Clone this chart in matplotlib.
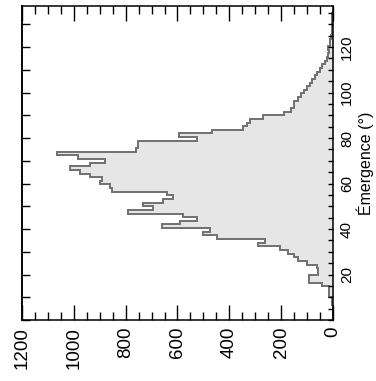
import numpy as np
import matplotlib
matplotlib.use('Agg')
import matplotlib.pyplot as plt
from matplotlib.ticker import MultipleLocator

plt.rcParams['font.family'] = ['Liberation Sans', 'DejaVu Sans']

# histogram of emergence angle (deg), bins of 1.6 deg starting at 0.4
bin_start = 0.4
bin_width = 1.6
counts = [0, 0, 0, 0, 5, 5, 14, 14, 14, 44,
          91, 91, 57, 57, 60, 101, 133, 152, 172, 204,
          288, 262, 448, 500, 474, 661, 591, 526, 578, 790,
          694, 733, 655, 616, 642, 854, 861, 899, 893, 938,
          976, 1015, 938, 880, 983, 1064, 760, 751, 751, 526,
          593, 468, 346, 333, 320, 270, 190, 160, 150, 150,
          135, 122, 112, 100, 90, 80, 70, 62, 50, 42,
          32, 22, 18, 15, 18, 12, 10, 6, 5, 4,
          5, 3, 3, 2, 0]
count_ticks = [0, 200, 400, 600, 800, 1000, 1200]
angle_ticks = [20, 40, 60, 80, 100, 120]

counts = np.array(counts)
edges = bin_start + bin_width * np.arange(len(counts) + 1)

fig = plt.figure(figsize=(3.76, 3.81), dpi=100)
ax = fig.add_axes([0.0585, 0.160, 0.827, 0.824])

# filled histogram lying on its side, then the outline
ax.stairs(counts, edges, orientation='horizontal', fill=True,
          color='#e6e6e6', linewidth=0)
ax.stairs(counts, edges, orientation='horizontal', fill=False,
          color='#707070', linewidth=1.4)

ax.set_xlim(1200, 0)
ax.set_ylim(0, 138)

for s in ax.spines.values():
    s.set_linewidth(1.1)

# count axis (bottom + top)
ax.set_xticks(count_ticks)
ax.xaxis.set_minor_locator(MultipleLocator(50))
ax.tick_params(axis='x', which='major', direction='in', length=11, width=1.0,
               top=True, bottom=True, labelsize=13.5, labelrotation=90, pad=5)
ax.tick_params(axis='x', which='minor', direction='in', length=5.5, width=1.0,
               top=True, bottom=True)

# angle axis on the right
ax.yaxis.tick_right()
ax.set_yticks(angle_ticks)
ax.yaxis.set_minor_locator(MultipleLocator(5))
ax.tick_params(axis='y', which='major', direction='in', length=3.5, width=1.0,
               left=False, right=True, labelsize=11, labelrotation=90, pad=5)
ax.tick_params(axis='y', which='minor', direction='in', length=3.5, width=1.0,
               left=False, right=True)
for lab in ax.get_yticklabels():
    lab.set_verticalalignment('center')

ax.yaxis.set_label_position('right')
ax.set_ylabel('Émergence (°)', fontsize=11.5, rotation=90)
ax.yaxis.set_label_coords(1.075, 0.5)

# left side ticks every 10 deg
sec = ax.secondary_yaxis('left')
sec.yaxis.set_major_locator(MultipleLocator(10))
sec.tick_params(axis='y', direction='in', length=5.5, width=1.0, labelleft=False)
sec.spines['left'].set_linewidth(1.1)

fig.savefig('out.png', dpi=100)
